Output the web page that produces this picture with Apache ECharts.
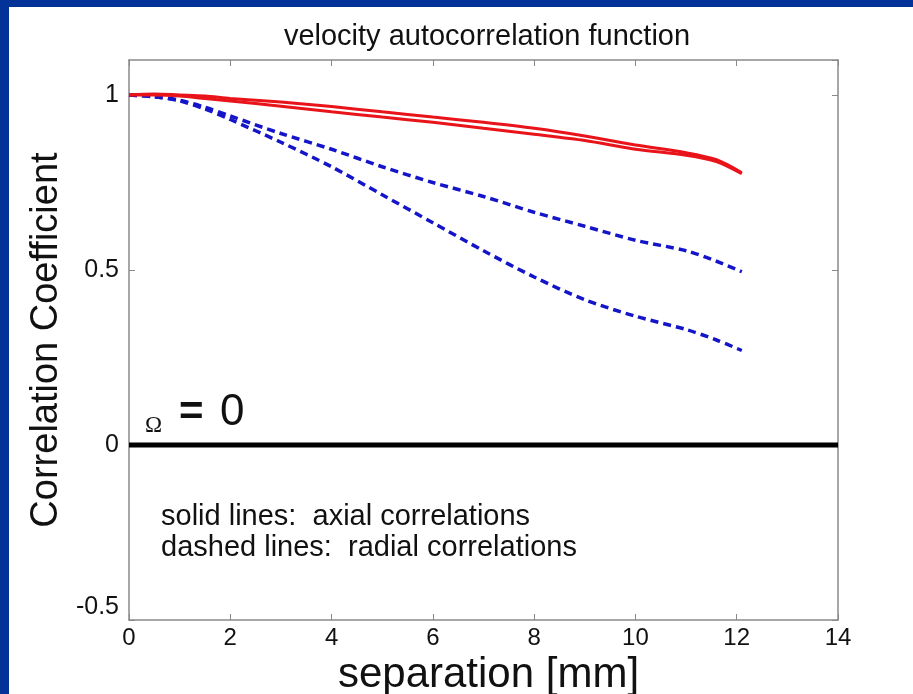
<!DOCTYPE html>
<html>
<head>
<meta charset="utf-8">
<script src="https://cdn.jsdelivr.net/npm/echarts@6/dist/echarts.min.js"></script>
<style>
  html, body { margin: 0; padding: 0; background: #fff; }
  #chart { width: 913px; height: 694px; }
</style>
</head>
<body>
<div id="chart"></div>
<script>
// separation [mm] sample positions
const separation = [0, 0.5, 1, 1.5, 2, 3, 4, 5, 6, 7, 8, 9, 10, 11, 11.6, 12.1];

// solid lines: axial correlations
const axialA = [1.0, 1.003, 1.0, 0.997, 0.99, 0.98, 0.967, 0.952, 0.937, 0.922, 0.905, 0.883, 0.857, 0.835, 0.815, 0.778];
const axialB = [1.0, 1.0, 0.997, 0.99, 0.983, 0.968, 0.952, 0.937, 0.922, 0.905, 0.888, 0.87, 0.845, 0.828, 0.81, 0.775];

// dashed lines: radial correlations
const radialA = [1.0, 0.995, 0.985, 0.965, 0.94, 0.89, 0.845, 0.795, 0.75, 0.71, 0.665, 0.625, 0.585, 0.555, 0.525, 0.495];
const radialB = [1.0, 0.995, 0.983, 0.96, 0.93, 0.865, 0.795, 0.715, 0.635, 0.555, 0.48, 0.415, 0.368, 0.33, 0.30, 0.27];

// zero reference line
const zeroX = [0, 14];
const zeroY = [0, 0];

const FONT = 'Liberation Sans';
const BORDER_BLUE = '#033399';
const AXIS_GRAY = '#8a8a8a';

const pairs = (xs, ys) => xs.map((x, i) => [x, ys[i]]);

const chart = echarts.init(document.getElementById('chart'));

const boxAxisX = {
    type: 'value',
    min: 0,
    max: 14,
    interval: 2,
    splitLine: { show: false },
    axisLine: { show: true, onZero: false, lineStyle: { color: AXIS_GRAY, width: 1.5 } },
    axisTick: { show: true, inside: true, length: 6, lineStyle: { color: AXIS_GRAY } }
};
const boxAxisY = {
    type: 'value',
    min: -0.5,
    max: 1.1,
    interval: 0.5,
    splitLine: { show: false },
    axisLine: { show: true, onZero: false, lineStyle: { color: AXIS_GRAY, width: 1.5 } },
    axisTick: { show: true, inside: true, length: 6, lineStyle: { color: AXIS_GRAY } }
};

const solid = (name, data) => ({
    name, type: 'line', data: pairs(separation, data),
    showSymbol: false, smooth: 0.3,
    lineStyle: { color: '#e8141a', width: 3 },
    z: 4
});
const dashed = (name, data) => ({
    name, type: 'line', data: pairs(separation, data),
    showSymbol: false, smooth: 0.3,
    lineStyle: { color: '#1414c8', width: 3.5, type: [8, 5] },
    z: 3
});

const option = {
    backgroundColor: '#ffffff',
    animation: false,
    title: {
        text: 'velocity autocorrelation function',
        left: 482,
        top: 17,
        textAlign: 'center',
        textStyle: { fontFamily: FONT, fontSize: 29, fontWeight: 'normal', color: '#111' }
    },
    grid: { left: 129, right: 75, top: 60, bottom: 74, containLabel: false, outerBoundsMode: 'none' },
    xAxis: [
        Object.assign({}, boxAxisX, {
            position: 'bottom',
            name: 'separation [mm]',
            nameLocation: 'middle',
            nameGap: 30,
            nameTextStyle: { fontFamily: FONT, fontSize: 42, color: '#111', padding: [0, 0, 0, 10] },
            axisLabel: { fontFamily: FONT, fontSize: 24, color: '#111', margin: 6 }
        }),
        Object.assign({}, boxAxisX, { position: 'top', axisLabel: { show: false } })
    ],
    yAxis: [
        Object.assign({}, boxAxisY, {
            position: 'left',
            name: 'Correlation Coefficient',
            nameLocation: 'middle',
            nameRotate: 90,
            nameGap: 57,
            nameTextStyle: { fontFamily: FONT, fontSize: 38, color: '#111' },
            axisLabel: {
                fontFamily: FONT, fontSize: 25, color: '#111', margin: 10, showMaxLabel: false,
                formatter: v => (v === -0.5 ? '{low|-0.5}' : String(v)),
                rich: { low: { fontFamily: FONT, fontSize: 25, color: '#111', padding: [0, 0, 26, 0] } }
            }
        }),
        Object.assign({}, boxAxisY, { position: 'right', axisLabel: { show: false } })
    ],
    graphic: [
        { type: 'rect', shape: { x: 0, y: 0, width: 9, height: 694 }, style: { fill: BORDER_BLUE }, z: 100 },
        { type: 'rect', shape: { x: 0, y: 0, width: 913, height: 7 }, style: { fill: BORDER_BLUE }, z: 100 },
        { type: 'text', left: 145, top: 414, style: { text: 'Ω', fontFamily: 'Liberation Serif', fontSize: 23, fill: '#111' } },
        { type: 'text', left: 179, top: 392, style: { text: '=', fontFamily: FONT, fontSize: 42, fontWeight: 'bold', fill: '#111' } },
        { type: 'text', left: 220, top: 391, style: { text: '0', fontFamily: FONT, fontSize: 44, fill: '#111' } },
        { type: 'text', left: 161, top: 502, style: { text: 'solid lines:  axial correlations', fontFamily: FONT, fontSize: 29, fill: '#111' } },
        { type: 'text', left: 161, top: 533, style: { text: 'dashed lines:  radial correlations', fontFamily: FONT, fontSize: 29, fill: '#111' } }
    ],
    series: [
        {
            name: 'zero', type: 'line', data: pairs(zeroX, zeroY),
            showSymbol: false, lineStyle: { color: '#000', width: 5 }, z: 2
        },
        solid('axial A', axialA),
        solid('axial B', axialB),
        dashed('radial A', radialA),
        dashed('radial B', radialB)
    ]
};

chart.setOption(option);
</script>
</body>
</html>
